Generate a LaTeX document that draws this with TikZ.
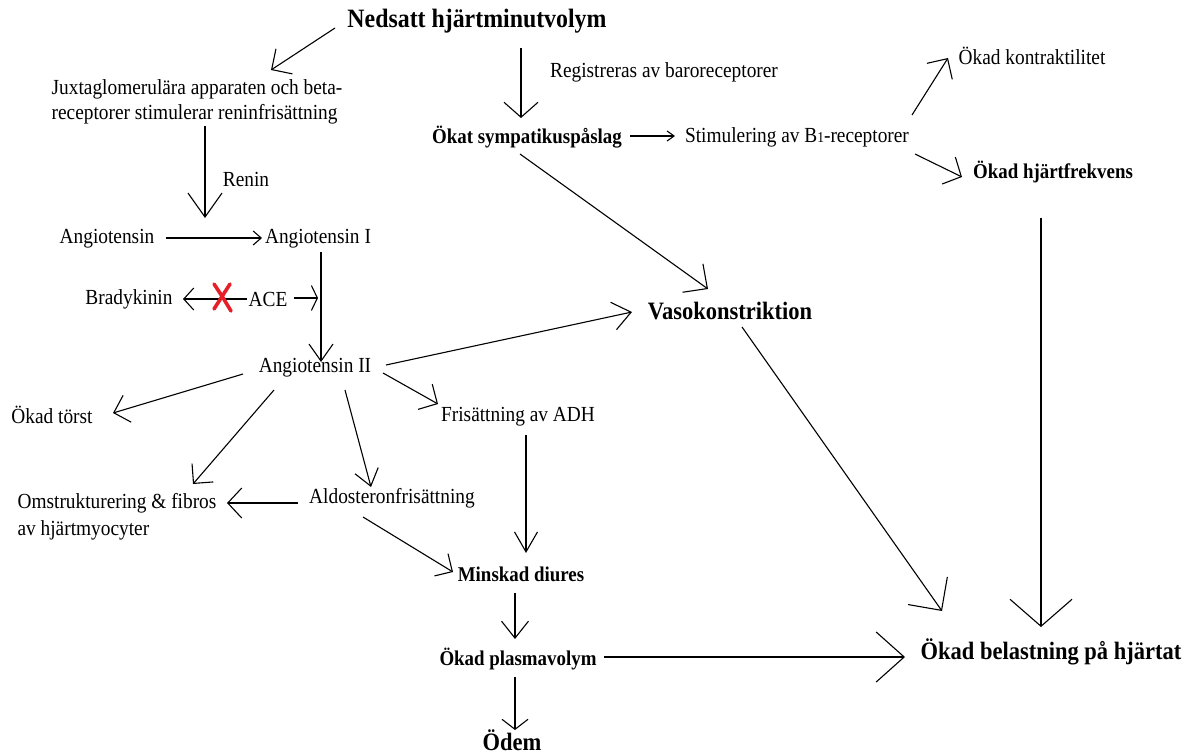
\documentclass[tikz,border=0pt]{standalone}
\usepackage{fontspec}
\setmainfont{Liberation Serif}[FakeStretch=0.9]
\usetikzlibrary{arrows.meta,calc}
\tikzset{
  txt/.style={font=\fontsize{21.5}{25}\selectfont, inner sep=0pt, text=black},
  bsm/.style={font=\bfseries\fontsize{21}{24}\selectfont, inner sep=0pt, text=black},
  bbig/.style={font=\bfseries\fontsize{25}{28}\selectfont, inner sep=0pt, text=black},
  con/.style={line width=1.1pt, draw=black},
  hd/.style 2 args={con, -{Straight Barb[length=#1pt,width=#2pt,line width=1.1pt]}},
  cross/.style={draw={rgb,255:red,230;green,30;blue,40}, line width=3.6pt, line cap=round}
}
\begin{document}
\begin{tikzpicture}[x=1pt,y=-1pt]
\useasboundingbox (0,0) rectangle (1191,755);
% nodes
\node[bbig, font=\bfseries\fontsize{26.5}{30}\selectfont] (ned) at (477,21) {Nedsatt hjärtminutvolym};
\node[txt, align=left] (jux) at (197,102) {Juxtaglomerulära apparaten och beta-\\receptorer stimulerar reninfrisättning};
\node[txt] (reg) at (664,72) {Registreras av baroreceptorer};
\node[bsm] (sym) at (527,137) {Ökat sympatikuspåslag};
\node[txt] (stim) at (797,137) {Stimulering av B{\fontsize{15}{15}\selectfont 1}-receptorer};
\node[txt] (kon) at (1032,56) {Ökad kontraktilitet};
\node[bsm] (hf) at (1053,172) {Ökad hjärtfrekvens};
\node[txt] (renin) at (246,179) {Renin};
\node[txt] (ang) at (107,239) {Angiotensin};
\node[txt] (ang1) at (318,239) {Angiotensin I};
\node[txt] (brady) at (129,299) {Bradykinin};
\node[txt] (ace) at (268,299) {ACE};
\node[txt] (ang2) at (315,368) {Angiotensin II};
\node[bbig] (vaso) at (730,311) {Vasokonstriktion};
\node[txt] (torst) at (52,415) {Ökad törst};
\node[txt] (adh) at (518,417) {Frisättning av ADH};
\node[txt, align=left, font=\fontsize{21.5}{27}\selectfont] (omst) at (117,517) {Omstrukturering \& fibros\\av hjärtmyocyter};
\node[txt] (aldo) at (392,498) {Aldosteronfrisättning};
\node[bsm] (diur) at (521,574) {Minskad diures};
\node[bsm] (plasma) at (518,659) {Ökad plasmavolym};
\node[bbig] (odem) at (512,740) {Ödem};
\node[bbig] (bel) at (1051,652) {Ökad belastning på hjärtat};
% connectors
\draw[hd={15}{30}] ($(ned)+(-142,7)$) -- ($(jux)+(74,-32)$);
\draw[hd={15}{34}] ($(ned)+(44,27)$) -- ($(sym)+(-6,-19)$);
\draw[hd={7}{10}] ($(sym)+(103,-1)$) -- ($(stim)+(-122,-1)$);
\draw[hd={15}{30}] ($(stim)+(115,-22)$) -- ($(kon)+(-84,2)$);
\draw[hd={14}{30}] ($(stim)+(118,17)$) -- ($(hf)+(-91,5)$);
\draw[hd={18}{35}] ($(sym)+(-7,17)$) -- ($(vaso)+(-22,-22)$);
\draw[hd={27}{62}] ($(hf)+(-12,46)$) -- ($(bel)+(-10,-25)$);
\draw[hd={24}{48}] ($(vaso)+(12,16)$) -- ($(bel)+(-109,-41)$);
\draw[hd={24}{34}] ($(jux)+(8,24)$) -- ($(ang1)+(-113,-21)$);
\draw[hd={8}{14}] ($(ang)+(59,-1)$) -- ($(ang1)+(-56,-1)$);
\draw[hd={17}{24}] ($(ang1)+(3,13)$) -- ($(ang2)+(6,-6)$);
\draw[hd={10}{22}] ($(ace)+(-21,0)$) -- ($(brady)+(54,0)$);
\draw[hd={6}{25}] ($(ace)+(26,-1)$) -- ($(ace)+(50,-1)$);
\draw[hd={18}{28}] ($(ang2)+(71,-3)$) -- ($(vaso)+(-98,1)$);
\draw[hd={14}{29}] ($(ang2)+(68,5)$) -- ($(adh)+(-80,-13)$);
\draw[hd={14}{28}] ($(ang2)+(-72,6)$) -- ($(torst)+(61,-2)$);
\draw[hd={14}{28}] ($(ang2)+(-41,22)$) -- ($(omst)+(76,-33)$);
\draw[hd={16}{24}] ($(ang2)+(30,22)$) -- ($(aldo)+(-21,-11)$);
\draw[hd={14}{30}] ($(aldo)+(-94,5)$) -- ($(omst)+(110,-14)$);
\draw[hd={13}{26}] ($(aldo)+(-29,19)$) -- ($(diur)+(-68,-2)$);
\draw[hd={20}{23}] ($(adh)+(8,18)$) -- ($(diur)+(5,-21)$);
\draw[hd={17}{27}] ($(diur)+(-6,19)$) -- ($(plasma)+(-3,-20)$);
\draw[hd={10}{26}] ($(plasma)+(-3,18)$) -- ($(odem)+(3,-10)$);
\draw[hd={28}{50}] ($(plasma)+(86,-2)$) -- ($(bel)+(-146,5)$);
% red cross on ACE -> Bradykinin
\draw[cross] ($(ace)+(-54,-15)$) .. controls ($(ace)+(-46,-3)$) .. ($(ace)+(-37,12)$);
\draw[cross] ($(ace)+(-38,-15)$) .. controls ($(ace)+(-46,-2)$) .. ($(ace)+(-54,10)$);
\end{tikzpicture}
\end{document}
